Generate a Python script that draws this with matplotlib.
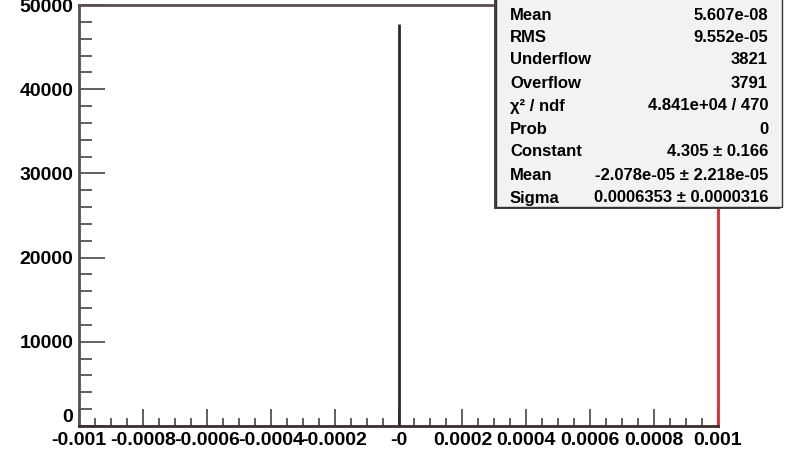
import matplotlib
matplotlib.use('Agg')
import matplotlib.pyplot as plt
from matplotlib.patches import Rectangle
import numpy as np

plt.rcParams['font.family'] = ['Liberation Sans', 'DejaVu Sans']

# Residual histogram: everything lands in the bin at zero
spike_x = [0.0]
spike_counts = [47800]

x_ticks = [-0.001, -0.0008, -0.0006, -0.0004, -0.0002, 0.0, 0.0002, 0.0004, 0.0006, 0.0008, 0.001]
x_tick_labels = ['-0.001', '-0.0008', '-0.0006', '-0.0004', '-0.0002', '-0',
                 '0.0002', '0.0004', '0.0006', '0.0008', '0.001']
y_ticks = [0, 10000, 20000, 30000, 40000, 50000]
y_tick_labels = ['0', '10000', '20000', '30000', '40000', '50000']

stat_names = ['Mean', 'RMS', 'Underflow', 'Overflow', 'χ² / ndf', 'Prob',
              'Constant', 'Mean', 'Sigma']
stat_values = ['5.607e-08', '9.552e-05', '3821', '3791', '4.841e+04 / 470', '0',
               '4.305 ± 0.166', '-2.078e-05 ± 2.218e-05', '0.0006353 ± 0.0000316']

W, H = 787, 462
fig = plt.figure(figsize=(W / 100, H / 100), dpi=100)
ax = fig.add_axes([79 / W, 1 - 426 / H, (718 - 79) / W, (426 - 5) / H])

ax.vlines(spike_x, 0, spike_counts, color='#2a2a2a', lw=2)

ax.set_xlim(-0.001, 0.001)
ax.set_ylim(0, 50000)

ax.set_xticks(x_ticks)
ax.set_xticklabels(x_tick_labels)
ax.set_xticks(np.linspace(-0.001, 0.001, 41), minor=True)
ax.set_yticks(y_ticks)
ax.set_yticklabels(y_tick_labels)
ax.set_yticks(np.arange(0, 50001, 2000), minor=True)

ax.tick_params(axis='both', which='both', direction='in', colors='#444444',
               labelcolor='black', labelsize=14, width=1.2)
ax.tick_params(axis='x', which='major', length=12, pad=4)
ax.tick_params(axis='x', which='minor', length=6)
ax.tick_params(axis='y', which='major', length=19, pad=4)
ax.tick_params(axis='y', which='minor', length=9)
for lab in ax.get_xticklabels() + ax.get_yticklabels():
    lab.set_fontweight('bold')
ax.get_yticklabels()[0].set_verticalalignment('bottom')

ax.spines['top'].set_color('#5e4e4e')
ax.spines['left'].set_color('#5e4e4e')
ax.spines['bottom'].set_color('#3a3030')
ax.spines['right'].set_color('#e02a2a')
for s in ax.spines.values():
    s.set_linewidth(2)

# Stats box, clipped at the top of the canvas
bx0, bx1, by1 = 496, 782, 207
shadow = Rectangle(((bx0 - 2) / W, 1 - (by1 + 2) / H), (bx1 - bx0) / W, (by1 + 10) / H,
                   transform=fig.transFigure, facecolor='#444444', edgecolor='none', zorder=5)
box = Rectangle((bx0 / W, 1 - by1 / H), (bx1 - bx0) / W, (by1 + 10) / H,
                transform=fig.transFigure, facecolor='#f2f2f2', edgecolor='#333333',
                lw=1, zorder=6)
fig.add_artist(shadow)
fig.add_artist(box)

row_y = [15, 38, 60, 83, 106, 129, 152, 175, 198]
for name, val, yy in zip(stat_names, stat_values, row_y):
    fig.text(510 / W, 1 - yy / H, name, ha='left', va='center', fontsize=12,
             fontweight='bold', zorder=7)
    fig.text(768 / W, 1 - yy / H, val, ha='right', va='center', fontsize=12,
             fontweight='bold', zorder=7)

fig.savefig('out.png', dpi=100)
